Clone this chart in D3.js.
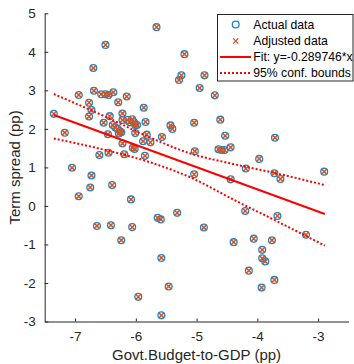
<!DOCTYPE html>
<html>
<head>
<meta charset="utf-8">
<script src="https://cdn.jsdelivr.net/npm/d3@7.9.0/dist/d3.min.js"></script>
<style>
  html, body { margin: 0; padding: 0; background: #fff; }
  svg { display: block; font-family: "Liberation Sans", Arial, Helvetica, sans-serif; }
</style>
</head>
<body>
<div id="chart"></div>
<script>
// Scatter values (actual and adjusted sit on top of each other)
const actualX = [
  -5.66, -6.50, -5.20, -6.70, -5.25, -5.29, -4.87, -4.95, -4.70, -6.69,
  -6.94, -6.57, -6.50, -6.45, -6.37, -6.15, -6.77, -6.29, -5.87, -6.73,
  -7.35, -6.22, -6.77, -6.43, -6.22, -6.53, -6.38, -6.34, -6.30, -6.26,
  -6.28, -6.24, -6.14, -6.10, -6.06, -6.03, -6.01, -5.98, -5.84, -6.01,
  -6.46, -5.82, -5.88, -5.76, -5.57, -5.43, -5.40, -7.17, -6.22, -6.05,
  -6.02, -6.45, -6.60, -6.19, -5.85, -7.05, -6.73, -6.75, -6.39, -6.94,
  -6.08, -5.32, -5.64, -5.59, -6.64, -6.41, -6.06, -6.24, -5.58, -5.46,
  -5.96, -5.58, -5.04, -4.61, -4.53, -3.71, -5.03, -4.64, -4.59, -4.54,
  -4.44, -3.97, -5.04, -4.19, -3.72, -3.62, -2.90, -4.44, -4.20, -3.67,
  -4.88, -3.20, -4.39, -4.06, -3.76, -3.92, -3.92, -3.87, -4.14, -3.72, -3.93
];
const actualY = [
  4.64, 4.18, 3.94, 3.58, 3.39, 3.27, 3.39, 3.06, 2.87, 2.99,
  2.88, 2.90, 2.90, 2.88, 2.95, 2.84, 2.68, 2.69, 2.55, 2.49,
  2.39, 2.40, 2.32, 2.33, 2.23, 2.16, 2.10, 2.04, 2.00, 1.94,
  1.88, 1.91, 2.23, 2.17, 2.25, 2.17, 2.10, 2.10, 2.18, 1.89,
  1.86, 1.85, 1.68, 1.65, 1.79, 2.09, 2.00, 1.90, 1.62, 1.51,
  1.48, 1.38, 1.32, 1.34, 1.30, 0.99, 0.79, 0.48, 0.54, 0.25,
  0.17, -0.18, -0.31, -0.35, -0.52, -0.50, -0.55, -0.89, -1.35, -2.09,
  -2.36, -2.84, 2.16, 2.24, 1.82, 1.77, 1.42, 1.47, 1.45, 1.45,
  1.52, 1.22, 0.82, 0.97, 0.85, 0.70, 0.89, 0.69, -0.13, -0.26,
  -0.56, -0.75, -0.94, -0.85, -0.89, -1.14, -1.36, -1.44, -1.68, -1.92, -2.12
];
const adjustedX = actualX;
const adjustedY = actualY;

// fitted line end points
const fitX = [-7.35, -2.89];
const fitY = [2.36, -0.21];

// 95% confidence bounds
const boundX = [-7.35, -6.5, -5.8, -5.1, -4.4, -3.6, -2.89];
const upperY = [2.905, 2.315, 1.80, 1.36, 1.09, 0.815, 0.54];
const lowerY = [1.75, 1.45, 1.15, 0.74, 0.17, -0.46, -1.03];

const xTicks = [-7, -6, -5, -4, -3];
const yTicks = [-3, -2, -1, 0, 1, 2, 3, 4, 5];
const legendLabels = ["Actual data", "Adjusted data", "Fit: y=-0.289746*x", "95% conf. bounds"];

const blue = "#1f82cc";
const orange = "#D95319";
const red = "#FF0000";
const axisColor = "#262626";

// little x marker, drawn as two strokes
const crossPath = "M-2.6,-2.6L2.6,2.6M-2.6,2.6L2.6,-2.6";

function renderChart() {
    const width = 354;
    const height = 364;
    const margin = { top: 13.3, right: 5.5, bottom: 42.5, left: 44.7 };
    const usable = {
        left: margin.left,
        right: width - margin.right,
        top: margin.top,
        bottom: height - margin.bottom
    };

    const svg = d3.select("#chart")
        .append("svg")
        .attr("width", width)
        .attr("height", height);

    const xScale = d3.scaleLinear().domain([-7.5, -2.5]).range([usable.left, usable.right]);
    const yScale = d3.scaleLinear().domain([-3, 5]).range([usable.bottom, usable.top]);

    // Axes (MATLAB style: ticks inside, no box)
    const xAxis = d3.axisBottom(xScale)
        .tickValues(xTicks)
        .tickSizeInner(-3)
        .tickSizeOuter(0)
        .tickPadding(10);
    const yAxis = d3.axisLeft(yScale)
        .tickValues(yTicks)
        .tickSizeInner(-3.5)
        .tickSizeOuter(0)
        .tickPadding(9);

    const gx = svg.append("g")
        .attr("transform", `translate(0, ${usable.bottom})`)
        .call(xAxis);
    const gy = svg.append("g")
        .attr("transform", `translate(${usable.left}, 0)`)
        .call(yAxis);

    [gx, gy].forEach(g => {
        g.select(".domain").attr("stroke", axisColor).attr("stroke-width", 1);
        g.selectAll(".tick line").attr("stroke", axisColor).attr("stroke-width", 1);
        g.selectAll(".tick text")
            .attr("fill", axisColor)
            .style("font-size", "13.5px")
            .style("font-family", "'Liberation Sans', Arial, sans-serif")
            .text(d => d < 0 ? "-" + Math.abs(d) : d);
    });

    // axis labels
    svg.append("text")
        .attr("x", (usable.left + usable.right) / 2)
        .attr("y", 360)
        .attr("text-anchor", "middle")
        .attr("fill", axisColor)
        .style("font-size", "15px")
        .text("Govt.Budget-to-GDP (pp)");
    svg.append("text")
        .attr("transform", `translate(19.5, ${(usable.top + usable.bottom) / 2}) rotate(-90)`)
        .attr("text-anchor", "middle")
        .attr("fill", axisColor)
        .style("font-size", "15px")
        .text("Term spread (pp)");

    // scatter: circles then crosses
    const pts = actualX.map((x, i) => ({ x, y: actualY[i] }));
    const adj = adjustedX.map((x, i) => ({ x, y: adjustedY[i] }));

    svg.append("g").attr("class", "actual")
        .selectAll("circle")
        .data(pts)
        .join("circle")
        .attr("cx", d => xScale(d.x))
        .attr("cy", d => yScale(d.y))
        .attr("r", 3.4)
        .attr("fill", "none")
        .attr("stroke", blue)
        .attr("stroke-width", 1.3);

    svg.append("g").attr("class", "adjusted")
        .selectAll("path")
        .data(adj)
        .join("path")
        .attr("transform", d => `translate(${xScale(d.x)}, ${yScale(d.y)})`)
        .attr("d", crossPath)
        .attr("fill", "none")
        .attr("stroke", orange)
        .attr("stroke-width", 1.5);

    // fit line and bounds
    const line = d3.line().x(d => xScale(d[0])).y(d => yScale(d[1]));
    svg.append("path")
        .attr("d", line(fitX.map((x, i) => [x, fitY[i]])))
        .attr("fill", "none")
        .attr("stroke", red)
        .attr("stroke-width", 2);

    const curved = d3.line().x(d => xScale(d[0])).y(d => yScale(d[1])).curve(d3.curveMonotoneX);
    [upperY, lowerY].forEach(ys => {
        svg.append("path")
            .attr("d", curved(boundX.map((x, i) => [x, ys[i]])))
            .attr("fill", "none")
            .attr("stroke", red)
            .attr("stroke-width", 2)
            .attr("stroke-dasharray", "2,2");
    });

    // legend
    const legend = svg.append("g");
    legend.append("rect")
        .attr("x", 217.5).attr("y", 14.5)
        .attr("width", 135.5).attr("height", 66.5)
        .attr("fill", "#fff")
        .attr("stroke", axisColor)
        .attr("stroke-width", 1);

    const rowY = [24.5, 41, 57, 73];
    const symX = 235.7;
    legend.append("circle")
        .attr("cx", symX).attr("cy", rowY[0]).attr("r", 3.4)
        .attr("fill", "none").attr("stroke", blue).attr("stroke-width", 1.3);
    legend.append("path")
        .attr("transform", `translate(${symX}, ${rowY[1]})`)
        .attr("d", crossPath)
        .attr("fill", "none").attr("stroke", orange).attr("stroke-width", 1.3);
    legend.append("line")
        .attr("x1", 220).attr("x2", 251).attr("y1", rowY[2]).attr("y2", rowY[2])
        .attr("stroke", red).attr("stroke-width", 2);
    legend.append("line")
        .attr("x1", 220).attr("x2", 251).attr("y1", rowY[3]).attr("y2", rowY[3])
        .attr("stroke", red).attr("stroke-width", 2).attr("stroke-dasharray", "2,2");

    legend.selectAll("text")
        .data(legendLabels)
        .join("text")
        .attr("x", 253.3)
        .attr("y", (d, i) => rowY[i])
        .attr("dy", "0.35em")
        .attr("fill", "#000")
        .style("font-size", "12.2px")
        .text(d => d);
}

renderChart();
</script>
</body>
</html>
